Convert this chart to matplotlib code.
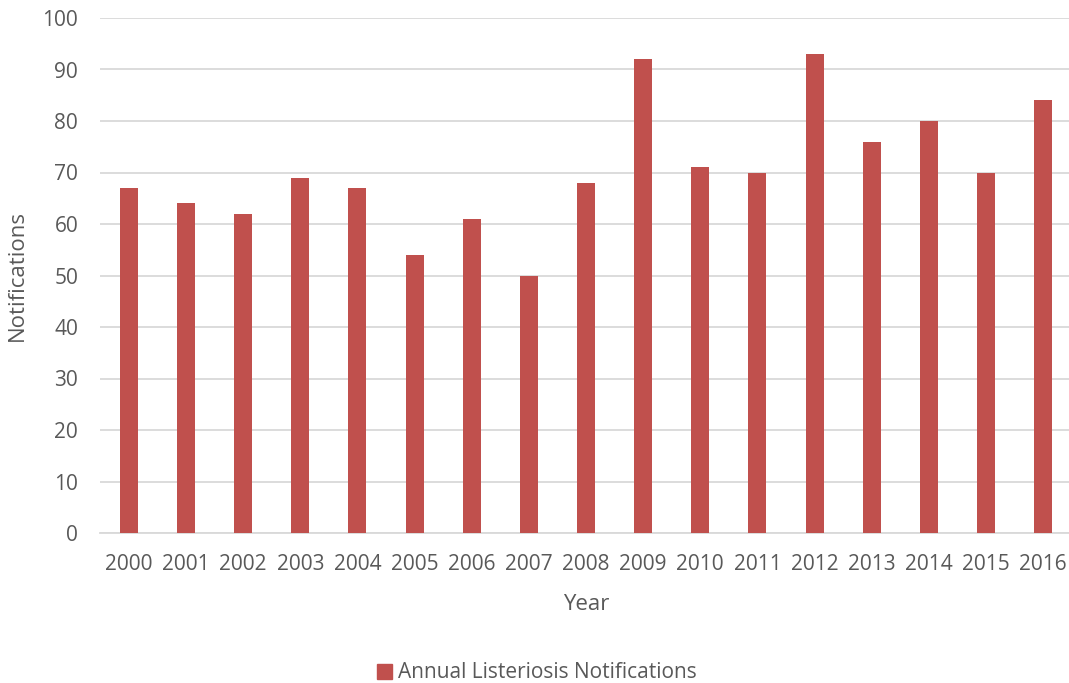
import matplotlib.pyplot as plt
from matplotlib.patches import Patch

years = [str(y) for y in range(2000, 2017)]
notifications = [67, 64, 62, 69, 67, 54, 61, 50, 68, 92, 71, 70, 93, 76, 80, 70, 84]

bar_color = "#C0504D"
text_color = "#595959"
grid_color = "#D9D9D9"

plt.rcParams["font.family"] = ["Open Sans", "DejaVu Sans"]

fig = plt.figure(figsize=(10.69, 6.83), dpi=100)
ax = fig.add_axes([100.4 / 1069, 150 / 683, (1071.6 - 100.4) / 1069, 515 / 683])

x = range(len(years))
ax.bar(x, notifications, width=0.315, color=bar_color, zorder=3)

ax.set_xlim(-0.5, len(years) - 0.5)
ax.set_ylim(0, 100)
ax.set_yticks(range(0, 101, 10))
ax.set_xticks(list(x))
ax.set_xticklabels(years)

ax.grid(axis="y", color=grid_color, linewidth=1.3, zorder=0)
for side in ["top", "right", "left"]:
    ax.spines[side].set_visible(False)
ax.spines["bottom"].set_color(grid_color)
ax.spines["bottom"].set_linewidth(1.3)
ax.tick_params(axis="both", length=0, labelsize=15, labelcolor=text_color)
ax.tick_params(axis="x", pad=15)
ax.tick_params(axis="y", pad=16)

ax.set_xlabel("Year", fontsize=16, color=text_color, labelpad=14)
ax.set_ylabel("Notifications", fontsize=16, color=text_color, va="center")
ax.yaxis.set_label_coords(-0.085, 0.5)

handle = Patch(color=bar_color, label="Annual Listeriosis Notifications")
fig.legend(handles=[handle], loc="center", bbox_to_anchor=(537 / 1069, 1 - 673 / 683),
           frameon=False, fontsize=15, labelcolor=text_color,
           handlelength=0.7, handleheight=0.7, handletextpad=0.3)

fig.savefig("out.png", dpi=100)
